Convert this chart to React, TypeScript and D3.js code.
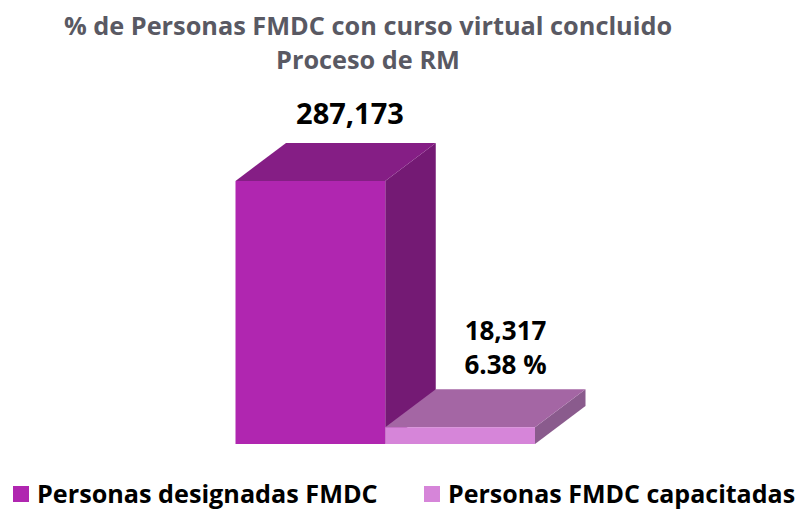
import React from "react";
import * as d3 from "d3";

const categories = ["Personas designadas FMDC", "Personas FMDC capacitadas"];
const values = [287173, 18317];
const frontColors = ["#b026b0", "#d685d9"];
const topColors = ["#851e85", "#a466a4"];
const sideColors = ["#741a74", "#8a5b8d"];
const valueLabels = [["287,173"], ["18,317", "6.38 %"]];
const titleLines = ["% de Personas FMDC con curso virtual concluido", "Proceso de RM"];

const W = 799, H = 511;
const font = "'Open Sans', 'Noto Sans', sans-serif";

export default function App() {
  const x = d3.scaleBand<string>().domain(categories).range([235.5, 535]).padding(0);
  const y = d3.scaleLinear().domain([0, 287173]).range([444, 181]);
  const dx = 50.5, dy = 38;
  const line = d3.line();

  return (
    <svg width={W} height={H} viewBox={`0 0 ${W} ${H}`}
      style={{ position: "fixed", left: 0, top: 0, background: "#fff", display: "block" }}>
      <g fontFamily={font} fontWeight={700} fontSize={25.3} fill="#595963" textAnchor="middle">
        {titleLines.map((t, i) => (
          <text key={t} x={368} y={35 + i * 34}>{t}</text>
        ))}
      </g>

      {categories.map((c, i) => {
        const x0 = x(c)!;
        const x1 = x0 + x.bandwidth();
        const yT = y(values[i]);
        const yB = y(0);
        const top = line([[x0, yT], [x0 + dx, yT - dy], [x1 + dx, yT - dy], [x1, yT]]) + "Z";
        const side = line([[x1, yT], [x1 + dx, yT - dy], [x1 + dx, yB - dy], [x1, yB]]) + "Z";
        return (
          <g key={c}>
            <path d={side} fill={sideColors[i]} />
            <path d={top} fill={topColors[i]} />
            <rect x={x0} y={yT} width={x1 - x0} height={yB - yT} fill={frontColors[i]} />
          </g>
        );
      })}

      <g fontFamily={font} fontWeight={700} fill="#000" textAnchor="middle">
        <text x={350} y={124} fontSize={29}>{valueLabels[0][0]}</text>
        <text x={505.5} y={340} fontSize={26}>{valueLabels[1][0]}</text>
        <text x={505.5} y={374} fontSize={26}>{valueLabels[1][1]}</text>
      </g>

      <g fontFamily={font} fontWeight={700} fontSize={25.2} fill="#000">
        <rect x={13} y={486} width={16} height={16} fill={frontColors[0]} />
        <text x={37} y={503}>{categories[0]}</text>
        <rect x={424} y={486} width={16} height={16} fill={frontColors[1]} />
        <text x={448} y={503} fontSize={25}>{categories[1]}</text>
      </g>
    </svg>
  );
}
